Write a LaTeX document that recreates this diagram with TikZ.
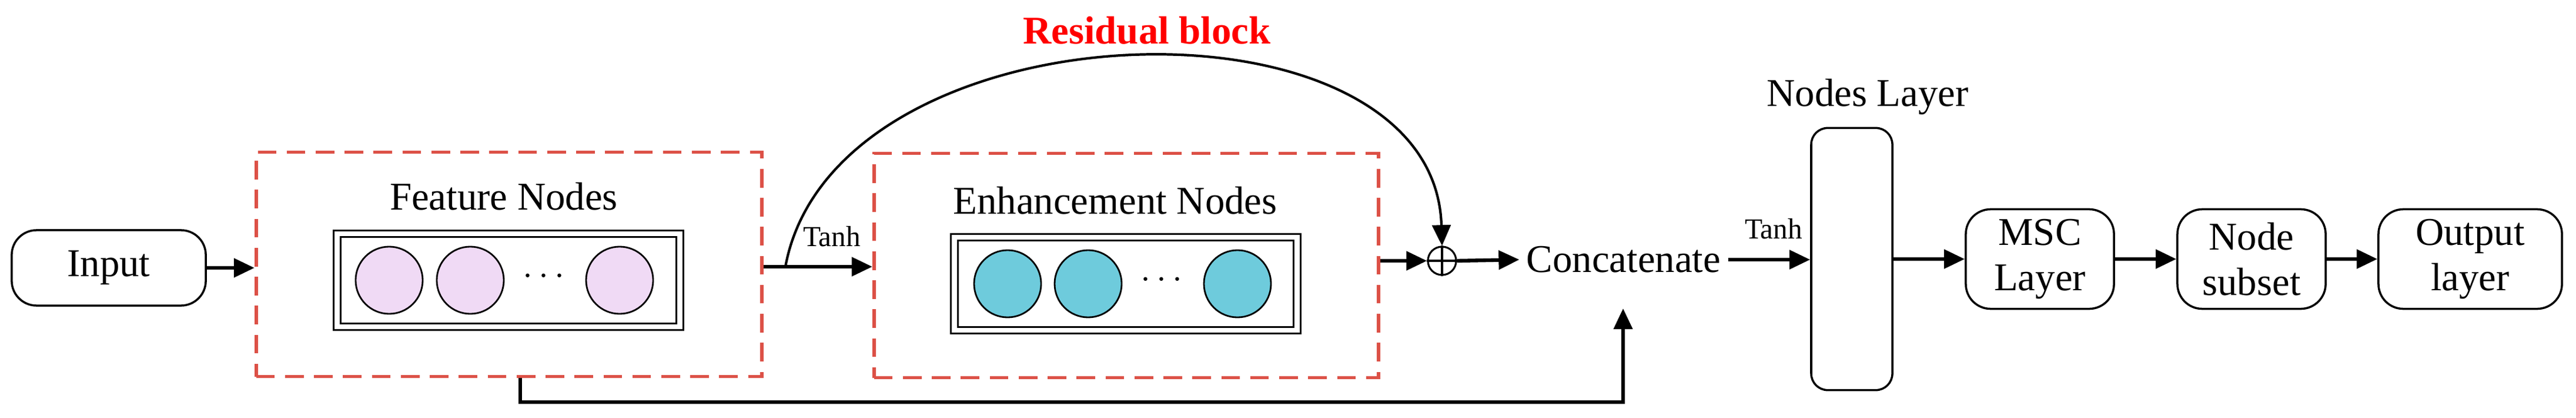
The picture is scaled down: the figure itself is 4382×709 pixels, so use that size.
\documentclass[tikz,border=0pt]{standalone}
\usepackage{fontspec}
\setmainfont{Liberation Serif}
\usetikzlibrary{arrows.meta,shapes.geometric}
\definecolor{dred}{RGB}{220,80,70}
\definecolor{pinkc}{RGB}{240,218,245}
\definecolor{cyanc}{RGB}{110,203,220}
\begin{document}
\begin{tikzpicture}[x=0.01cm,y=-0.01cm,
  txt/.style={font=\fontsize{19}{22}\selectfont},
  small/.style={font=\fontsize{14}{16}\selectfont},
  rbox/.style={draw,line width=1pt,rounded corners=12pt,align=center,txt,inner sep=0pt},
  dbox/.style={draw=dred,line width=1.6pt,dash pattern=on 9pt off 5pt},
  arr/.style={line width=1.8pt,-{Triangle[length=10pt,width=9pt]}},
  cir/.style={draw,circle,line width=0.8pt,minimum size=1.14cm,inner sep=0pt},
  ibox/.style={draw,double,double distance=2.5pt,line width=0.8pt,minimum width=5.83cm,minimum height=1.58cm,inner sep=0pt}
]
\useasboundingbox (0,0) rectangle (4382,709);
% input
\node[rbox,minimum width=3.3cm,minimum height=1.28cm] (in) at (185,455) {Input};
% feature box
\node[dbox,minimum width=8.6cm,minimum height=3.81cm,inner sep=0pt] (fb) at (866,449) {};
\node[txt] (fl) at (857,334) {Feature Nodes};
\node[ibox] (fi) at (865,476) {};
\node[cir,fill=pinkc] (f1) at (662,476) {};
\node[cir,fill=pinkc] (f2) at (800,476) {};
\node[cir,fill=pinkc] (f3) at (1054,476) {};
\node[txt] (fd) at (925,470) {$\cdots$};
% enhancement box
\node[dbox,minimum width=8.58cm,minimum height=3.81cm,inner sep=0pt] (eb) at (1916,451) {};
\node[txt] (el) at (1897,341) {Enhancement Nodes};
\node[ibox] (ei) at (1915,482) {};
\node[cir,fill=cyanc] (e1) at (1714,482) {};
\node[cir,fill=cyanc] (e2) at (1851,482) {};
\node[cir,fill=cyanc] (e3) at (2105,482) {};
\node[txt] (ed) at (1976,476) {$\cdots$};
% labels
\node[font=\fontsize{19}{22}\selectfont\bfseries,text=red] (rl) at (1951,52) {Residual block};
\node[small] (t1) at (1415,402) {Tanh};
\node[small] (t2) at (3017,389) {Tanh};
% plus
\node[draw,circle,line width=0.9pt,minimum size=0.48cm,inner sep=0pt] (pl) at (2453,443) {};
\draw[line width=0.9pt] (pl.north)--(pl.south) (pl.west)--(pl.east);
\node[txt] (cc) at (2762,441) {Concatenate};
% nodes layer
\node[draw,line width=1pt,rounded corners=8pt,minimum width=1.38cm,minimum height=4.45cm,inner sep=0pt] (nl) at (3150,440) {};
\node[txt] (nll) at (3177,165) {Nodes Layer};
\node[rbox,minimum width=2.52cm,minimum height=1.69cm] (msc) at (3470,440) {MSC\\Layer};
\node[rbox,minimum width=2.52cm,minimum height=1.69cm] (ns) at (3830,440) {Node\\subset};
\node[rbox,minimum width=3.12cm,minimum height=1.69cm] (ol) at (4202,440) {Output\\layer};
% arrows
\draw[arr] (in.east) -- (fb.west|-in.east);
\draw[arr] (fb.east|-0,453) -- (eb.west|-0,453);
\coordinate (cs) at (1336,453);
\draw[line width=1.2pt,-{Triangle[length=10pt,width=9pt]}] (cs) .. controls (1420,0) and (2440,-30) .. (pl.north);
\draw[arr] (eb.east|-pl.west) -- (pl.west);
\draw[arr] (pl.east) -- (cc.west);
\coordinate (b1) at (885,683);
\coordinate (b2) at (2761,524);
\draw[line width=1.6pt,-{Triangle[length=10pt,width=9pt]}] (fb.south-|b1) -- (b1) -- (b1-|b2) -- (b2);
\draw[arr] (cc.east) -- (nl.west|-cc.east);
\draw[arr] (nl.east|-msc.west) -- (msc.west);
\draw[arr] (msc.east) -- (ns.west);
\draw[arr] (ns.east) -- (ol.west);
\end{tikzpicture}
\end{document}
